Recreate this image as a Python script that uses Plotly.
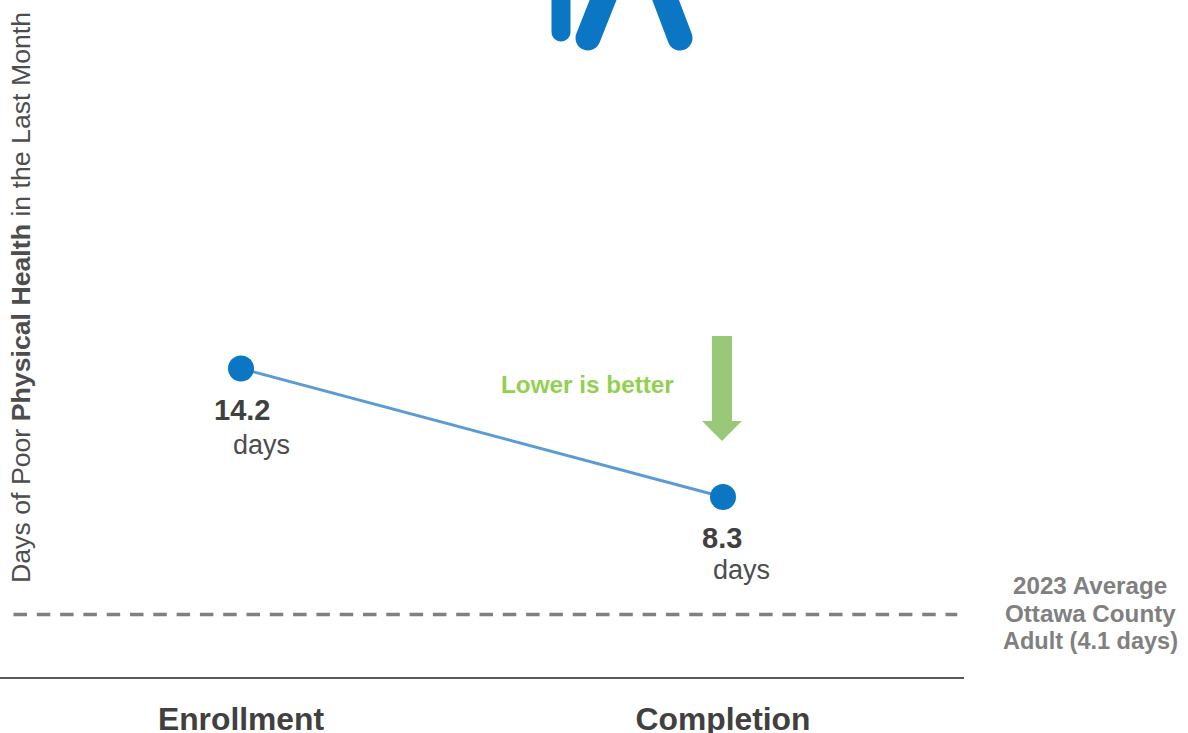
import plotly.graph_objects as go

# Program results: average days of poor physical health
stages = ["Enrollment", "Completion"]
poor_health_days = [14.2, 8.3]
county_average_days = [4.1, 4.1]
county_line_span = [0.014, 0.993]

FONT = "Liberation Sans"
DARK = "#404040"
GREY = "#808080"
BLUE = "#0b76c4"
GREEN = "#98c878"
PLOT_W, PLOT_H = 964, 677


def px(x, y):
    """Page pixels to paper fractions of the plot area."""
    return x / PLOT_W, 1 - y / PLOT_H


def polygon(points):
    coords = [px(*p) for p in points]
    return "M " + " L ".join(f"{x:.5f},{y:.5f}" for x, y in coords) + " Z"


def capsule(x0, y0, x1, y1, w):
    """Rounded bar between two page points, used for the figure's legs."""
    dx, dy = x1 - x0, y1 - y0
    n = (dx * dx + dy * dy) ** 0.5
    ux, uy = dx / n, dy / n
    nx, ny = -uy * w / 2, ux * w / 2
    k = 0.55 * w / 2
    a = (x0 + nx, y0 + ny)
    b = (x1 + nx, y1 + ny)
    c = (x1 - nx, y1 - ny)
    d = (x0 - nx, y0 - ny)
    tip = (x1 + ux * w / 2, y1 + uy * w / 2)

    def p(q):
        fx, fy = px(*q)
        return f"{fx:.5f},{fy:.5f}"

    c1 = (b[0] + ux * k, b[1] + uy * k)
    c2 = (tip[0] + nx * 0.55, tip[1] + ny * 0.55)
    c3 = (tip[0] - nx * 0.55, tip[1] - ny * 0.55)
    c4 = (c[0] + ux * k, c[1] + uy * k)
    return (f"M {p(a)} L {p(b)} C {p(c1)} {p(c2)} {p(tip)} "
            f"C {p(c3)} {p(c4)} {p(c)} L {p(d)} Z")


fig = go.Figure()

# Hidden overlay axis carrying the county reference line
fig.add_trace(go.Scatter(
    x=county_line_span, y=county_average_days, xaxis="x2", yaxis="y2",
    mode="lines", line=dict(color=GREY, width=3.5, dash="13.5px,9.8px"),
    hoverinfo="skip", showlegend=False,
))

fig.add_trace(go.Scatter(
    x=stages, y=poor_health_days, mode="lines+markers",
    line=dict(color="#5b9bd5", width=3),
    marker=dict(color=BLUE, size=26),
    showlegend=False,
))

shapes = [
    dict(type="path", xref="paper", yref="paper", line_width=0, fillcolor=BLUE,
         path=capsule(561, -20, 561, 32, 19)),
    dict(type="path", xref="paper", yref="paper", line_width=0, fillcolor=BLUE,
         path=capsule(611, -20, 588, 38, 25)),
    dict(type="path", xref="paper", yref="paper", line_width=0, fillcolor=BLUE,
         path=capsule(658, -20, 680, 38, 25)),
    dict(type="path", xref="paper", yref="paper", line_width=0, fillcolor=GREEN,
         path=polygon([(712, 336), (732, 336), (732, 421), (742, 421),
                       (722, 441), (702, 421), (712, 421)])),
]


def note(text, x, y, size, color, bold=False, **kw):
    fx, fy = px(x, y)
    return dict(text=f"<b>{text}</b>" if bold else text, x=fx, y=fy,
                xref="paper", yref="paper", showarrow=False,
                font=dict(family=FONT, size=size, color=color),
                xanchor=kw.pop("xanchor", "center"),
                yanchor=kw.pop("yanchor", "middle"), **kw)


annotations = [
    note(f"{poor_health_days[0]}", 242, 410, 29, DARK, bold=True),
    note("days", 261, 445, 27, "#4d4d4d"),
    note(f"{poor_health_days[1]}", 722, 538, 29, DARK, bold=True),
    note("days", 741, 570, 27, "#4d4d4d"),
    note("Lower is better", 587, 384, 24.3, "#92d050", bold=True),
    note("2023 Average", 1090, 585, 24.2, GREY, bold=True),
    note("Ottawa County", 1090, 613, 24.2, GREY, bold=True),
    note(f"Adult ({county_average_days[0]} days)", 1090, 641, 23.5, GREY, bold=True),
    note("Days of Poor <b>Physical Health</b> in the Last Month", 20.5, 585, 26.7,
         "#4d4d4d", textangle=-90, yanchor="bottom"),
]

fig.update_layout(
    width=1188, height=733, margin=dict(l=0, r=224, t=0, b=56),
    paper_bgcolor="white", plot_bgcolor="white", showlegend=False,
    xaxis=dict(
        type="category", range=[-0.5, 1.5], showgrid=False, zeroline=False,
        showline=True, linecolor="#595959", linewidth=2, ticks="",
        automargin=False, ticklabelstandoff=13,
        tickfont=dict(family=FONT, size=31.8, color=DARK, weight="bold"),
    ),
    yaxis=dict(range=[0.037, 31.12], visible=False, automargin=False),
    xaxis2=dict(range=[0, 1], overlaying="x", visible=False),
    yaxis2=dict(range=[0, 44.4], overlaying="y", visible=False),
    shapes=shapes,
    annotations=annotations,
)

fig.write_html("out.html")
